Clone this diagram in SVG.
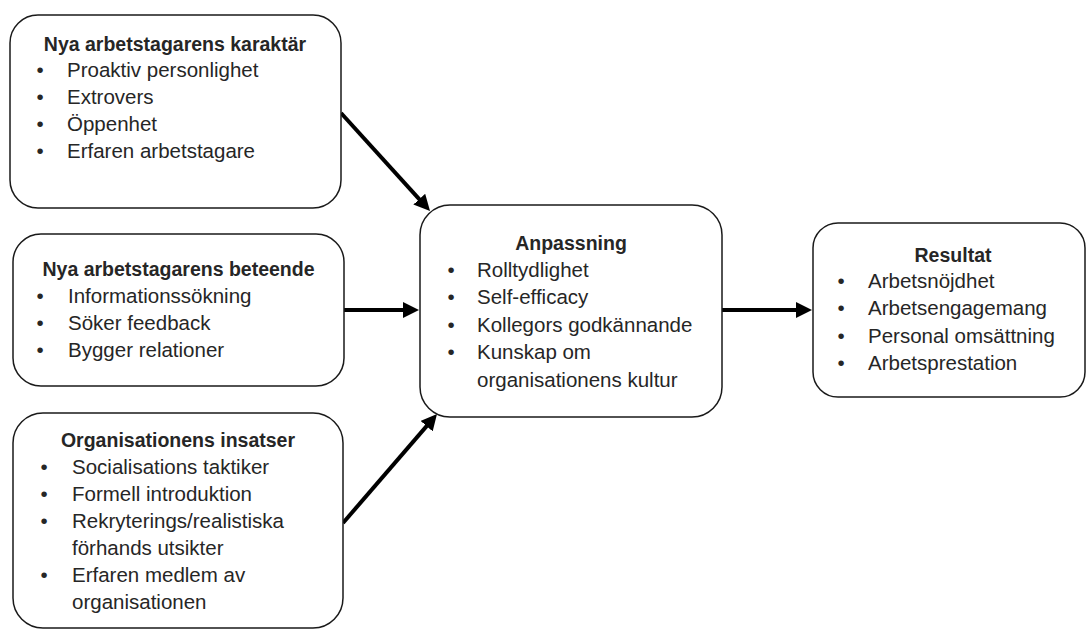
<svg xmlns="http://www.w3.org/2000/svg" width="1087" height="629" viewBox="0 0 1087 629">
<defs>
<marker id="ah" markerUnits="userSpaceOnUse" markerWidth="16" markerHeight="16" refX="6" refY="8" orient="auto">
<path d="M0,0 L16,8 L0,16 Z" fill="#000"/>
</marker>
<style>
.box{fill:#fff;stroke:#1a1a1a;stroke-width:1.5}
.t{font-family:"Liberation Sans",Arial,sans-serif;fill:#262626}
.h{font-size:19.5px;font-weight:bold;text-anchor:middle}
.i{font-size:20.5px}
.b{font-size:20.5px;text-anchor:middle}
.arr{stroke:#000;stroke-width:4;fill:none;marker-end:url(#ah)}
</style>
</defs>
<rect width="1087" height="629" fill="#fff"/>
<g id="connectors">
<line class="arr" x1="341" y1="113" x2="423.3" y2="203.6"/>
<line class="arr" x1="344" y1="310" x2="409" y2="310"/>
<line class="arr" x1="343" y1="523" x2="430.5" y2="421.6"/>
<line class="arr" x1="722" y1="310" x2="802" y2="310"/>
</g>
<g id="node-karaktar">
<rect class="box" x="10" y="15" width="331" height="193" rx="28" ry="28"/>
<text class="t h" x="175" y="51">Nya arbetstagarens karaktär</text>
<text class="t b" x="40" y="77">•</text><text class="t i" x="67" y="77">Proaktiv personlighet</text>
<text class="t b" x="40" y="104">•</text><text class="t i" x="67" y="104">Extrovers</text>
<text class="t b" x="40" y="131">•</text><text class="t i" x="67" y="131">Öppenhet</text>
<text class="t b" x="40" y="158">•</text><text class="t i" x="67" y="158">Erfaren arbetstagare</text>
</g>
<g id="node-beteende">
<rect class="box" x="13" y="234" width="331" height="152" rx="28" ry="28"/>
<text class="t h" x="178.5" y="276">Nya arbetstagarens beteende</text>
<text class="t b" x="40" y="303">•</text><text class="t i" x="68" y="303">Informationssökning</text>
<text class="t b" x="40" y="330">•</text><text class="t i" x="68" y="330">Söker feedback</text>
<text class="t b" x="40" y="357">•</text><text class="t i" x="68" y="357">Bygger relationer</text>
</g>
<g id="node-insatser">
<rect class="box" x="13" y="413" width="330" height="215" rx="30" ry="30"/>
<text class="t h" x="178" y="447">Organisationens insatser</text>
<text class="t b" x="44" y="474">•</text><text class="t i" x="72" y="474">Socialisations taktiker</text>
<text class="t b" x="44" y="501">•</text><text class="t i" x="72" y="501">Formell introduktion</text>
<text class="t b" x="44" y="528">•</text><text class="t i" x="72" y="528">Rekryterings/realistiska</text>
<text class="t i" x="72" y="555">förhands utsikter</text>
<text class="t b" x="44" y="582">•</text><text class="t i" x="72" y="582">Erfaren medlem av</text>
<text class="t i" x="72" y="609">organisationen</text>
</g>
<g id="node-anpassning">
<rect class="box" x="420" y="205" width="302" height="212" rx="30" ry="30"/>
<text class="t h" x="571" y="250">Anpassning</text>
<text class="t b" x="451" y="277">•</text><text class="t i" x="477" y="277">Rolltydlighet</text>
<text class="t b" x="451" y="304">•</text><text class="t i" x="477" y="304">Self-efficacy</text>
<text class="t b" x="451" y="332">•</text><text class="t i" x="477" y="332">Kollegors godkännande</text>
<text class="t b" x="451" y="359">•</text><text class="t i" x="477" y="359">Kunskap om</text>
<text class="t i" x="477" y="387">organisationens kultur</text>
</g>
<g id="node-resultat">
<rect class="box" x="813" y="223" width="272" height="174" rx="25" ry="25"/>
<text class="t h" x="953" y="262">Resultat</text>
<text class="t b" x="841" y="288">•</text><text class="t i" x="868" y="288">Arbetsnöjdhet</text>
<text class="t b" x="841" y="315">•</text><text class="t i" x="868" y="315">Arbetsengagemang</text>
<text class="t b" x="841" y="343">•</text><text class="t i" x="868" y="343">Personal omsättning</text>
<text class="t b" x="841" y="370">•</text><text class="t i" x="868" y="370">Arbetsprestation</text>
</g>
</svg>
